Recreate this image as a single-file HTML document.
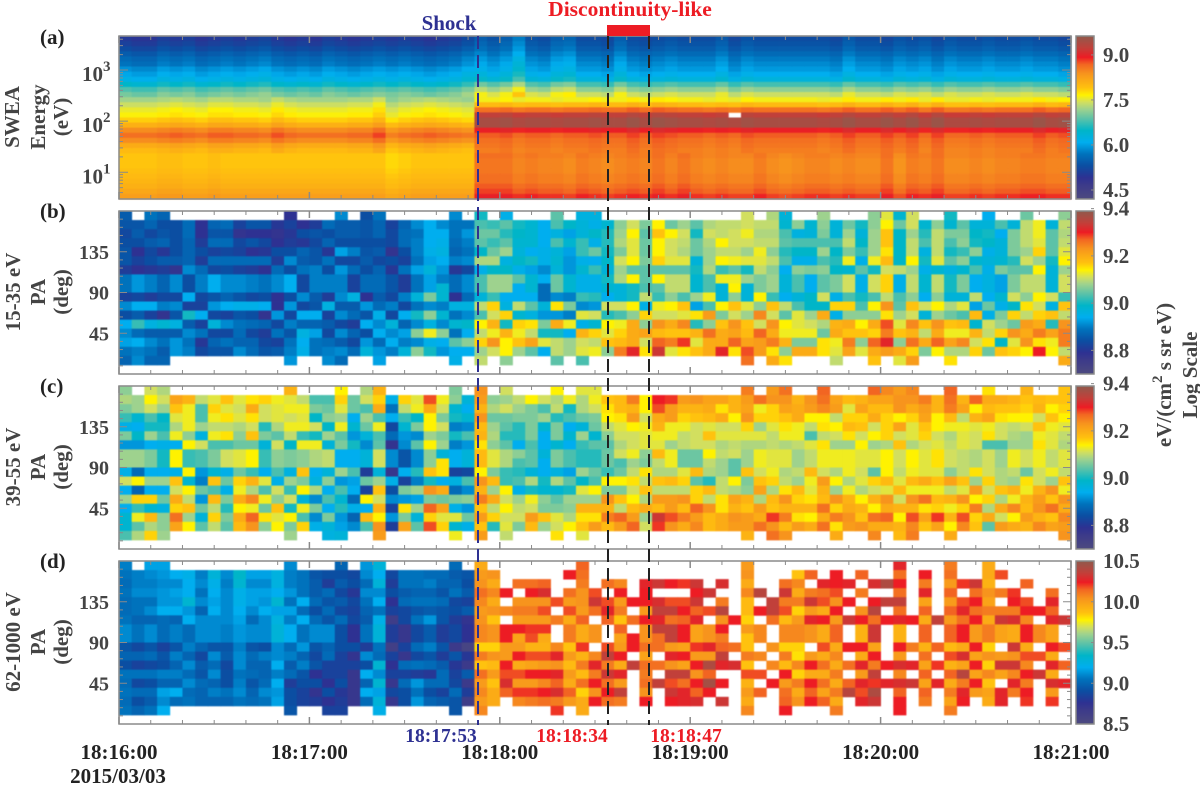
<!DOCTYPE html>
<html lang="en">
<head>
<meta charset="utf-8">
<title>SWEA electron spectra and pitch angle distributions</title>
<style>
html,body{margin:0;padding:0;background:#fff}
svg{display:block}
text{font-family:"Liberation Serif",serif;font-weight:bold}
#marks{filter:blur(0.4px)}
</style>
</head>
<body>
<svg id="chart" xmlns="http://www.w3.org/2000/svg" width="1200" height="788" viewBox="0 0 1200 788">
  <g id="marks"></g>
  <g id="frames"></g>

  <text x="40" y="44" font-size="21" fill="#222">(a)</text>
  <text x="40" y="218" font-size="21" fill="#222">(b)</text>
  <text x="40" y="393" font-size="21" fill="#222">(c)</text>
  <text x="40" y="568" font-size="21" fill="#222">(d)</text>

  <g fill="#444" font-size="21" text-anchor="middle">
    <text transform="translate(19,117) rotate(-90)">SWEA</text>
    <text transform="translate(45,117) rotate(-90)">Energy</text>
    <text transform="translate(68,117) rotate(-90)">(eV)</text>
    <text transform="translate(20,292) rotate(-90)">15-35 eV</text>
    <text transform="translate(45,292) rotate(-90)">PA</text>
    <text transform="translate(68,292) rotate(-90)">(deg)</text>
    <text transform="translate(20,467) rotate(-90)">39-55 eV</text>
    <text transform="translate(45,467) rotate(-90)">PA</text>
    <text transform="translate(68,467) rotate(-90)">(deg)</text>
    <text transform="translate(20,642) rotate(-90)">62-1000 eV</text>
    <text transform="translate(45,642) rotate(-90)">PA</text>
    <text transform="translate(68,642) rotate(-90)">(deg)</text>
    <text transform="translate(1171,375) rotate(-90)">eV/(cm<tspan font-size="15" dy="-9">2</tspan><tspan dy="9"> s sr eV)</tspan></text>
    <text transform="translate(1197,375) rotate(-90)">Log Scale</text>
  </g>

  <text x="449" y="30" font-size="21" fill="#2e3192" text-anchor="middle">Shock</text>
  <text x="630" y="16" font-size="21.5" fill="#ed1c24" text-anchor="middle">Discontinuity-like</text>
  <rect x="607" y="25" width="43" height="11" fill="#ed1c24"/>

  <line x1="478" y1="36" x2="478" y2="725" stroke="#2e3192" stroke-width="2" stroke-dasharray="13 6"/>
  <line x1="608" y1="36" x2="608" y2="725" stroke="#222" stroke-width="2" stroke-dasharray="13 6"/>
  <line x1="649" y1="36" x2="649" y2="725" stroke="#222" stroke-width="2" stroke-dasharray="13 6"/>

  <text x="441" y="742" font-size="19.5" fill="#2e3192" text-anchor="middle">18:17:53</text>
  <text x="572" y="742" font-size="19.5" fill="#ed1c24" text-anchor="middle">18:18:34</text>
  <text x="686" y="742" font-size="19.5" fill="#ed1c24" text-anchor="middle">18:18:47</text>
  <text x="118" y="783" font-size="21" fill="#222" text-anchor="middle">2015/03/03</text>
  <g id="xlabels"></g>
</svg>

<script>
// ---------- Data ----------
const timeTickLabels = ["18:16:00","18:17:00","18:18:00","18:19:00","18:20:00","18:21:00"];
const paTickValues = [45,90,135];
const energyDecades = [1,2,3];
const colorTicksA = [4.5,6.0,7.5,9.0];
const colorTicksB = [8.8,9.0,9.2,9.4];
const colorTicksC = [8.8,9.0,9.2,9.4];
const colorTicksD = [8.5,9.0,9.5,10.0,10.5];

// Panel (a): log flux per energy bin (top bin first), before and after the shock
const spectrumBeforeShock = [5.02,5.12,5.27,5.46,5.61,5.70,5.90,6.04,6.19,6.48,6.82,7.01,7.21,7.40,7.55,7.64,7.84,8.08,8.42,8.61,8.42,8.13,7.98,7.89,7.89,7.89,7.93,7.98,8.03,8.08,8.18,8.27];
const spectrumAfterShock = [5.27,5.36,5.46,5.61,5.75,5.85,5.95,6.09,6.29,6.77,7.11,7.40,7.60,7.98,8.61,9.24,9.44,9.44,8.95,8.71,8.61,8.57,8.52,8.47,8.42,8.42,8.42,8.47,8.47,8.57,8.66,8.81];
// Panel (a): per-sweep departures in high / mid / low energy bands
const sweepDevHigh = [0,-1,-1,1,0,1,-1,0,1,0,1,2,0,-1,0,-1,1,0,-1,0,1,0,1,0,-1,0,1,3,3,1,3,7,1,0,3,4,0,0,-1,3,0,-1,0,1,0,0,0,2,-1,1,0,0,0,0,0,0,-1,2,0,0,-1,1,0,1,-1,1,0,0,1,0,0,1,0,0,-1];
const sweepDevMid = [0,0,0,1,2,1,0,2,2,1,1,0,3,1,0,0,0,0,1,1,4,-2,0,1,2,1,0,-1,0,0,1,-1,0,0,-1,0,0,1,0,0,2,0,2,1,0,0,-1,0,-1,1,0,0,0,0,0,-1,0,2,0,0,2,0,2,-1,2,-1,-1,0,-1,0,0,0,2,0,1];
const sweepDevLow = [0,0,0,1,1,0,0,1,0,0,0,0,0,0,0,0,0,0,0,0,0,-2,-1,0,0,0,0,0,3,3,3,1,2,1,1,0,2,1,0,1,2,1,3,1,3,1,0,1,0,0,2,0,-1,0,1,1,0,1,0,0,3,-1,2,1,3,0,0,1,0,1,1,2,2,1,1];
const spectrumGapSweep = 48;
const spectrumGapBin = 15;

// Panels (b)-(d): levels per pitch-angle row (top row first), 0 means no data.
// (b),(c): flux = 8.7 + level*0.01 ; (d): flux = 8.5 + level*0.029
const panelBLevels = [
[16,0,19,17,0,0,0,0,0,0,0,0,0,9,0,0,0,21,0,14,19,0,0,0,0,0,21,0,30, 0,25,0,0,0,34,0,26,26,0,0,0,0,0,0,0,0,0,0,0,41,0,39,27,0,0,38,0,0,0, 37,42,28,41,0,0,30,0,0,24,0,0,35,0,0,37],
[15,15,17,14,14,18,9,17,18,12,15,15,10,12,9,11,18,16,16,15,17,12,17,21,24,21,19,19,33, 32,34,30,28,24,33,29,27,25,28,37,41,36,44,35,38,34,39,40,40,41,40,40,28,37,28,37,27,35,30, 37,44,35,41,28,37,28,34,27,27,33,27,40,43,27,40],
[13,16,13,15,14,18,9,15,15,8,9,9,8,10,14,15,14,16,16,15,17,13,18,19,24,24,19,22,35, 35,31,29,28,24,26,23,27,29,31,38,44,34,47,44,41,30,41,40,41,43,39,39,33,26,27,36,27,38,27, 38,47,29,38,31,40,36,36,29,30,24,36,40,43,34,39],
[14,14,16,17,14,17,11,18,18,13,15,13,9,11,10,13,17,14,14,14,14,13,18,20,24,25,18,20,34, 32,34,28,28,24,33,28,32,25,31,39,42,35,44,41,40,35,39,44,41,41,40,40,34,33,33,33,33,40,29, 38,47,29,40,33,40,33,37,30,29,27,36,40,42,34,40],
[15,9,13,10,14,17,14,12,13,12,9,10,14,14,17,15,10,23,20,15,16,8,14,20,25,26,17,19,29, 35,38,27,24,25,27,23,32,35,30,36,42,35,44,41,39,35,38,40,40,38,43,37,31,29,29,38,29,36,32, 38,45,29,40,26,40,30,32,37,25,27,36,38,46,34,42],
[15,12,14,16,16,17,11,18,18,18,18,18,11,21,16,15,19,13,13,16,13,14,12,19,23,24,20,21,39, 39,26,29,30,25,28,22,25,24,29,41,44,36,46,42,42,27,38,44,43,42,42,40,33,25,25,33,31,43,25, 43,48,29,44,30,42,34,37,28,27,28,31,41,38,30,44],
[11,9,10,11,8,21,18,13,14,12,11,9,18,14,19,20,14,22,18,14,17,10,19,23,27,22,10,13,25, 29,29,25,23,21,27,22,28,32,27,38,34,34,34,34,34,30,39,32,34,30,40,37,24,37,36,37,29,28,34, 30,41,40,38,25,28,26,28,33,25,36,34,34,44,27,38],
[19,22,20,17,21,14,20,24,21,21,20,19,21,24,13,20,20,20,12,18,18,15,11,19,23,20,18,21,33, 38,38,34,28,24,35,28,25,25,30,39,44,34,44,40,40,28,33,43,43,38,36,38,27,33,24,34,36,41,25, 41,46,25,40,28,40,30,36,24,26,23,36,40,40,27,41],
[19,22,20,17,21,14,20,24,21,21,20,19,21,24,13,20,20,20,12,18,18,15,11,19,23,28,18,21,33, 38,38,24,28,18,35,28,25,25,28,27,30,33,34,40,40,28,33,27,44,27,36,38,27,33,24,34,36,41,25, 41,46,25,40,28,40,30,36,24,26,23,36,40,40,27,41],
[12,13,11,13,13,24,13,15,17,15,13,14,9,14,21,16,11,21,26,9,16,13,20,27,36,28,9,18,27, 32,24,24,24,18,21,20,32,31,24,27,30,40,32,37,33,38,43,27,37,27,44,32,24,27,29,41,25,33,30, 33,40,33,37,24,37,27,27,40,24,28,41,37,44,41,32],
[21,24,24,20,21,12,12,22,24,25,25,24,9,22,13,15,26,16,16,22,18,20,13,19,21,20,26,26,40, 46,26,40,34,27,45,36,21,22,41,41,44,25,43,44,47,23,33,44,47,42,37,47,40,33,29,29,46,46,33, 44,53,34,47,41,44,39,42,23,35,25,29,45,41,26,47],
[14,16,12,8,15,30,24,13,12,15,14,8,22,13,24,24,12,21,18,15,25,13,24,30,37,28,19,21,33, 41,46,28,26,22,22,20,42,41,31,33,37,46,41,41,42,45,52,36,41,38,54,41,34,42,38,50,25,37,37, 37,45,38,41,27,38,35,33,48,25,36,46,40,46,47,40],
[24,32,26,28,26,16,12,27,21,19,18,17,13,20,17,17,16,13,11,24,21,27,17,21,26,21,28,29,44, 49,30,46,45,36,50,43,25,28,44,43,50,37,53,50,54,31,37,47,53,47,41,53,44,42,41,39,49,50,44, 50,58,42,54,47,53,47,48,28,41,38,35,52,50,31,53],
[21,18,16,16,16,21,19,13,13,18,13,11,19,15,26,23,13,21,17,14,24,21,23,37,43,37,19,24,40, 43,49,43,40,30,30,24,49,46,42,46,50,51,48,47,47,49,56,50,51,48,57,50,43,43,43,35,50,47,47, 46,55,47,49,40,50,43,43,49,40,46,53,50,55,51,55],
[23,24,21,19,22,19,10,17,19,17,17,13,12,19,24,19,18,16,13,22,18,24,20,21,25,24,34,37,46, 53,44,47,51,42,40,38,41,40,47,48,50,41,57,55,59,42,50,50,57,51,52,55,49,36,36,45,43,55,37, 57,61,37,56,50,57,51,54,41,45,29,42,53,45,43,55],
[19,20,19,16,22,20,13,15,15,21,18,15,16,20,25,19,20,21,18,27,22,20,27,37,30,22,24,24,38, 41,44,38,34,24,40,38,42,43,37,55,61,45,63,42,45,47,50,61,45,58,52,45,37,50,50,45,42,51,42, 50,52,50,46,36,44,39,39,46,35,47,46,44,60,44,40],
[17,21,17,17,0,0,0,0,0,0,0,0,0,22,0,0,21,18,0,0,23,0,0,0,0,0,25,0,40, 0,37,0,0,0,34,0,33,0,0,0,0,0,0,0,0,0,0,0,0,56,0,50,45,0,0,0,40,0,0, 47,0,42,52,0,0,45,0,0,0,0,0,0,0,0,50]
];
const panelCLevels = [
[37,0,41,39,0,0,0,0,0,0,0,0,0,49,0,0,0,44,0,39,49,0,0,0,0,0,36,0,53, 0,41,0,0,0,44,0,42,42,0,0,0,0,0,0,0,0,0,0,0,55,0,52,56,0,0,57,0,0,0, 57,54,52,54,0,0,57,0,0,45,0,0,49,0,0,47],
[39,38,44,41,51,49,40,42,47,42,45,46,43,42,40,33,33,46,35,41,46,25,46,42,58,43,37,27,52, 37,38,40,44,41,39,43,39,43,47,48,55,44,60,59,52,53,51,51,49,52,56,53,53,49,53,56,51,48,49, 51,51,53,53,55,49,56,49,57,50,50,49,47,48,47,47],
[36,38,41,38,47,43,33,46,42,41,50,41,42,43,43,36,35,42,35,33,50,19,40,43,50,41,28,24,49, 39,41,38,36,33,40,30,39,41,45,48,49,44,58,52,49,49,50,45,49,51,43,46,51,50,52,54,52,42,51, 48,48,53,50,52,49,55,51,44,48,47,47,46,49,44,46],
[32,28,33,29,42,43,33,43,45,42,45,41,42,41,42,29,37,38,24,38,33,24,32,29,44,36,30,28,53, 35,35,36,36,38,31,33,35,36,44,45,52,41,50,52,46,47,48,50,44,53,46,46,47,50,44,44,40,46,46, 50,46,44,46,51,44,48,40,49,51,45,44,44,41,47,44],
[25,24,30,30,39,43,38,40,40,39,41,31,39,43,43,41,29,43,28,35,43,13,28,36,44,41,20,21,48, 38,34,31,36,28,36,24,27,35,40,42,44,43,49,43,43,41,42,41,41,46,38,42,45,43,40,45,44,48,47, 41,46,51,42,47,44,43,43,42,43,41,40,41,47,43,42],
[36,29,38,33,43,37,26,43,45,37,47,36,34,40,32,30,38,34,22,27,33,18,22,21,38,36,30,33,49, 39,31,31,36,24,36,28,38,28,37,41,41,42,43,43,40,41,47,42,42,42,42,40,43,43,33,40,41,45,41, 44,46,41,42,46,41,39,42,41,45,41,39,38,43,42,40],
[22,22,24,25,24,44,41,33,33,35,35,27,41,29,43,43,27,36,30,21,34,8,21,34,44,38,20,22,45, 37,34,24,33,24,28,24,32,34,34,39,41,42,42,38,40,41,41,39,40,39,39,40,39,40,42,45,38,38,44, 38,39,47,39,41,42,40,42,41,33,33,38,38,45,42,39],
[38,38,36,30,44,32,33,36,41,42,44,32,37,36,37,39,40,24,24,27,41,21,15,21,37,27,24,27,48, 42,39,37,34,27,36,33,31,31,35,41,43,37,48,43,35,35,44,40,41,38,43,42,42,38,40,43,43,43,42, 42,44,41,44,42,45,41,40,39,41,38,43,41,43,40,42],
[38,38,36,30,44,32,33,36,41,42,44,32,37,36,37,39,40,24,24,27,41,21,15,21,37,45,24,27,48, 42,39,33,34,24,36,33,31,31,35,33,38,36,40,43,35,35,40,38,34,38,43,42,42,38,40,43,43,43,42, 42,44,41,44,42,45,41,40,39,41,38,43,41,43,40,42],
[25,18,24,24,25,44,22,28,25,35,32,24,33,26,47,24,27,38,33,11,27,7,24,31,47,45,12,13,44, 36,32,31,27,24,26,23,38,35,32,35,40,45,39,39,42,48,39,38,34,47,41,43,39,40,48,41,39,43,41, 34,44,40,43,42,42,37,40,45,41,39,40,35,41,43,40],
[41,44,38,38,47,28,20,47,35,46,49,42,25,38,36,26,37,22,23,35,38,25,12,20,30,24,26,33,53, 48,32,33,39,30,39,34,29,33,44,44,45,40,47,48,46,34,31,40,44,36,47,46,40,38,43,52,44,39,42, 46,48,42,48,50,47,51,47,38,46,39,38,45,41,38,47],
[24,17,24,24,41,44,35,33,25,43,39,33,41,32,44,39,24,33,24,12,47,14,36,38,53,50,18,21,49, 38,44,25,30,28,28,30,42,44,36,36,41,47,40,40,40,46,48,40,39,37,51,39,45,48,42,49,38,43,39, 41,42,48,43,43,43,40,42,52,41,47,49,43,49,53,43],
[38,46,46,35,50,40,22,48,36,50,54,43,37,41,27,21,33,28,18,44,41,21,22,23,36,35,36,37,55, 50,41,38,43,37,34,38,38,38,53,47,44,39,52,52,53,46,40,45,51,49,39,48,53,46,45,48,53,49,44, 49,53,41,53,56,48,49,53,44,46,39,43,49,52,47,53],
[24,32,28,26,46,47,35,40,31,44,43,35,47,30,43,36,24,31,25,24,49,12,45,38,57,51,25,22,47, 40,44,40,41,36,36,37,49,49,49,40,48,50,48,52,48,57,53,45,49,47,52,47,49,49,49,56,46,50,49, 44,50,49,49,45,46,43,46,55,39,50,54,48,53,56,50],
[28,43,48,37,56,38,27,46,36,50,57,45,42,44,33,21,36,22,17,48,44,22,36,27,46,42,42,35,52, 46,41,41,52,47,42,39,45,45,55,57,52,38,63,58,55,52,48,50,53,52,50,59,55,45,44,50,55,53,47, 56,57,44,58,51,59,49,58,46,50,41,44,52,49,47,54],
[28,34,39,37,51,44,34,40,34,48,53,37,44,36,46,25,27,23,21,33,53,11,51,34,58,46,28,25,47, 31,42,36,48,38,41,44,47,52,48,52,57,41,59,53,50,54,48,50,52,52,56,53,48,52,50,56,45,52,53, 50,50,49,54,47,51,44,54,47,34,52,50,49,54,51,52],
[33,39,46,38,0,0,0,0,0,0,0,0,0,38,0,0,26,27,0,0,52,0,0,0,0,0,43,0,52, 0,40,0,0,0,45,0,42,0,0,0,0,0,0,0,0,0,0,0,0,49,0,56,53,0,0,0,50,0,0, 54,0,48,55,0,0,50,0,0,0,0,0,0,0,0,53]
];
const panelDLevels = [
[20,0,23,23,0,0,0,0,0,0,0,0,0,21,0,0,0,17,0,22,27,0,0,0,0,0,18,0,50, 0,0,0,0,0,0,0,57,0,0,0,0,0,0,0,0,0,0,0,0,52,0,0,0,0,0,0,0,0,0, 0,0,61,0,0,0,55,0,0,50,0,0,0,0,0,0],
[19,20,21,22,24,25,20,27,21,29,23,23,26,20,19,15,14,14,13,21,24,13,19,19,18,18,16,15,52, 53,0,0,0,0,0,60,56,0,0,0,0,0,0,0,0,0,0,0,0,53,0,0,0,47,57,0,60,0,57, 0,0,56,0,60,0,56,0,0,50,58,0,0,0,0,0],
[18,20,20,21,21,24,21,25,20,28,21,21,26,20,19,16,11,16,14,18,27,11,19,19,20,17,17,14,53, 50,0,56,56,57,0,0,55,0,56,54,0,61,63,60,59,63,0,62,0,50,0,0,56,54,0,61,60,61,0, 62,66,60,0,55,0,52,59,63,49,0,0,57,0,0,0],
[19,21,21,22,23,24,19,24,21,25,23,23,24,22,19,16,18,13,10,21,21,14,16,17,17,15,19,16,56, 54,60,0,60,62,0,56,53,58,0,60,0,60,0,0,0,60,63,0,0,54,65,0,63,50,55,56,58,0,55, 0,0,56,0,61,0,57,0,56,53,55,59,0,0,56,0],
[18,19,19,22,22,28,21,23,21,25,23,22,28,19,24,18,15,16,13,19,24,9,18,19,19,18,13,12,54, 50,0,53,53,53,58,52,53,63,58,52,60,60,62,58,58,63,0,55,0,48,0,64,55,55,63,58,53,60,0, 60,64,64,0,51,0,52,58,60,51,0,60,58,0,61,0],
[18,19,21,24,24,22,17,24,21,24,21,24,23,23,18,14,18,13,12,17,19,12,13,15,16,15,14,16,52, 53,54,55,55,58,0,58,52,56,61,55,0,52,64,64,60,57,58,65,0,48,60,64,58,46,52,50,60,0,53, 65,0,56,0,57,0,57,61,56,55,55,55,60,60,57,0],
[19,17,17,18,17,24,21,21,21,23,18,21,26,20,24,18,15,18,13,16,25,5,13,19,22,15,11,8,53, 47,0,52,52,52,55,50,57,0,57,47,56,60,61,56,57,61,0,53,60,46,0,56,48,52,61,60,52,63,60, 56,60,61,60,50,64,52,56,60,50,63,62,54,0,61,63],
[21,19,21,18,20,18,21,21,20,22,21,21,27,24,19,21,21,14,9,19,27,11,7,13,16,11,13,9,54, 53,60,60,59,59,0,55,50,53,0,57,0,53,64,64,60,51,53,60,0,52,54,0,54,54,53,50,57,0,49, 63,0,49,0,57,0,57,60,52,55,51,50,60,54,51,0],
[21,19,21,18,20,18,21,21,20,22,21,21,27,24,19,21,21,14,9,19,27,11,7,13,16,11,13,9,54, 53,60,51,58,50,0,55,50,53,0,51,60,53,56,64,60,51,53,55,0,47,54,0,54,54,53,50,57,0,49, 63,0,49,0,57,0,57,60,52,55,51,50,60,54,51,0],
[15,13,15,12,15,20,17,15,15,20,15,14,21,18,22,15,17,14,14,11,19,4,12,18,20,15,6,2,46, 46,52,52,49,49,54,47,59,0,58,52,60,56,56,52,51,59,61,57,56,47,0,53,46,46,0,58,50,60,60, 51,0,60,55,49,57,48,50,60,46,0,63,50,0,60,58],
[17,17,18,15,20,17,13,21,16,21,18,20,21,20,17,13,18,12,8,21,18,12,7,13,15,11,15,10,55, 53,52,60,58,58,61,52,49,54,64,60,0,51,0,61,60,52,52,64,0,55,54,0,55,45,52,50,54,0,50, 60,0,52,0,56,0,58,62,51,53,52,53,58,58,50,0],
[14,12,13,14,17,21,16,18,13,21,17,17,24,16,20,15,12,12,12,14,28,9,18,19,18,16,10,6,47, 48,60,50,51,52,53,48,55,61,55,50,64,56,56,53,51,60,66,61,62,47,0,54,48,54,60,56,50,56,61, 55,60,62,61,51,59,49,51,60,46,63,63,54,0,61,57],
[19,19,19,20,20,18,15,21,14,19,18,17,20,18,15,9,12,12,7,24,21,12,12,11,10,18,12,16,56, 52,58,58,60,60,61,52,48,55,63,61,0,55,0,64,64,53,57,0,0,58,58,0,60,46,50,50,55,0,52, 64,0,54,0,57,0,57,65,51,54,51,54,60,63,50,0],
[18,13,14,17,17,21,18,17,14,20,15,18,24,11,14,14,9,14,7,17,28,7,18,22,18,18,13,6,52, 47,62,52,52,54,57,50,56,60,56,52,0,56,64,58,56,60,67,60,0,49,0,60,52,55,60,56,50,57,61, 59,61,62,63,51,61,50,55,60,47,0,61,55,0,62,61],
[19,18,18,23,24,18,17,20,19,21,17,21,22,14,12,8,14,10,7,24,23,13,14,19,14,12,18,11,54, 50,57,59,59,60,62,57,46,53,60,64,0,53,0,63,61,57,60,0,0,52,57,0,56,50,57,51,55,65,58, 66,0,57,0,57,0,55,61,52,51,61,55,60,0,52,0],
[18,14,16,21,18,19,17,17,17,19,18,19,23,14,12,11,9,11,7,18,27,7,14,22,17,16,15,5,52, 50,0,54,55,56,55,52,50,60,56,55,0,60,0,60,61,62,0,63,0,50,0,0,57,53,60,57,50,0,61, 63,0,60,0,55,0,51,60,0,50,61,0,59,0,59,0],
[19,17,19,24,0,0,0,0,0,0,0,0,0,15,0,0,12,12,0,0,25,0,0,0,0,0,15,0,54, 0,0,0,0,0,59,0,50,0,0,0,0,0,0,0,0,0,0,0,0,54,0,0,60,0,0,0,55,0,0, 0,0,60,0,0,0,55,0,0,0,0,0,0,0,0,0]
];

// ---------- Scales and drawing ----------
const NS = "http://www.w3.org/2000/svg";
const marks = document.getElementById("marks");
const frames = document.getElementById("frames");
const xlabels = document.getElementById("xlabels");
const PLOT_LEFT = 119, PLOT_RIGHT = 1071, BAR_LEFT = 1076, BAR_RIGHT = 1094;
const SWEEPS = 75, SWEEP_SECONDS = 4, TOTAL_SECONDS = 300, PA_ROWS = 18;
const FRAME = "#8a8a8a";
const DEV_UNIT_HIGH = 0.07, DEV_UNIT_MID = 0.05, DEV_UNIT_LOW = 0.05;

function xTime(sec){ return PLOT_LEFT + sec/TOTAL_SECONDS*(PLOT_RIGHT-PLOT_LEFT); }
function mk(tag,parent){ const el=document.createElementNS(NS,tag); parent.appendChild(el); return el; }
function linear(d0,d1,r0,r1){ return function(v){ return r0+(v-d0)/(d1-d0)*(r1-r0); }; }

const colorStops = [[0,[77,74,127]],[6,[60,58,138]],[9,[46,49,146]],[14,[11,78,162]],[19,[0,114,188]],[24,[0,174,239]],[29,[0,181,200]],[34,[92,194,168]],[38,[158,210,142]],[41,[210,223,95]],[44,[255,242,0]],[47,[255,194,14]],[53,[247,148,29]],[57,[242,101,34]],[60,[237,28,36]],[64,[193,64,58]],[69,[143,90,76]]];
function colorAt(frac){
  const p=Math.max(0,Math.min(1,frac))*69;
  for(let i=1;i<colorStops.length;i++){
    if(p<=colorStops[i][0]){
      const a=colorStops[i-1],b=colorStops[i],t=(p-a[0])/(b[0]-a[0]);
      return "rgb("+[0,1,2].map(function(k){return Math.round(a[1][k]+(b[1][k]-a[1][k])*t);}).join(",")+")";
    }
  }
  return "rgb(143,90,76)";
}

function drawCell(group,x,y,w,h,fill){
  const el=mk("rect",group);
  el.setAttribute("x",x.toFixed(2));
  el.setAttribute("y",y.toFixed(2));
  el.setAttribute("width",(w+0.4).toFixed(2));
  el.setAttribute("height",(h+0.4).toFixed(2));
  el.setAttribute("fill",fill);
  
  
}

function drawTick(group,x1,y1,x2,y2,w){
  const el=mk("line",group);
  el.setAttribute("x1",x1);el.setAttribute("y1",y1);el.setAttribute("x2",x2);el.setAttribute("y2",y2);
  el.setAttribute("stroke",FRAME);el.setAttribute("stroke-width",w||1);
  
  
}

function drawFrame(group,top,bottom){
  const box=mk("rect",group);
  box.setAttribute("x",PLOT_LEFT);box.setAttribute("y",top);
  box.setAttribute("width",PLOT_RIGHT-PLOT_LEFT);box.setAttribute("height",bottom-top);
  box.setAttribute("fill","none");box.setAttribute("stroke",FRAME);box.setAttribute("stroke-width","1.5");
  
  
  for(let s=0;s<=TOTAL_SECONDS;s+=10){
    const x=xTime(s),major=s%60===0,len=major?7:4;
    drawTick(group,x,bottom,x,bottom-len,major?1.5:1);
    drawTick(group,x,top,x,top+len,major?1.5:1);
  }
}

function drawColorbar(top,bottom,scale,ticks,digits){
  const g=mk("g",frames);
  
  
  const n=Math.round(bottom-top);
  for(let i=0;i<n;i++){
    const seg=mk("rect",g);
    seg.setAttribute("x",BAR_LEFT);seg.setAttribute("y",top+i);
    seg.setAttribute("width",BAR_RIGHT-BAR_LEFT);seg.setAttribute("height",1.3);
    seg.setAttribute("fill",colorAt(1-(i+0.5)/n));
    
    
  }
  const box=mk("rect",g);
  box.setAttribute("x",BAR_LEFT);box.setAttribute("y",top);box.setAttribute("width",BAR_RIGHT-BAR_LEFT);box.setAttribute("height",bottom-top);
  box.setAttribute("fill","none");box.setAttribute("stroke",FRAME);box.setAttribute("stroke-width","1.5");
  
  
  ticks.forEach(function(v){
    const y=scale(v);
    drawTick(g,BAR_RIGHT-3,y,BAR_RIGHT,y,1);
    const t=mk("text",g);
    t.setAttribute("x",BAR_RIGHT+9);t.setAttribute("y",y+7);
    t.setAttribute("font-size","21");t.setAttribute("fill","#444");
    
    
    t.textContent=v.toFixed(digits);
  });
}

function drawPaPanel(levels,top,bottom,base,step,dMin,dMax,ticks,panelName){
  const g=mk("g",marks);
  
  
  const rowH=(bottom-top)/PA_ROWS, cellW=xTime(SWEEP_SECONDS)-xTime(0);
  const colorFrac=linear(dMin,dMax,0,1);
  levels.forEach(function(row,r){
    row.forEach(function(level,c){
      if(!level) return;
      const value=base+level*step;
      drawCell(g,xTime(c*SWEEP_SECONDS),top+r*rowH,cellW,rowH,colorAt(colorFrac(value)));
    });
  });
  drawFrame(frames,top,bottom);
  const yPa=linear(0,180,bottom,top);
  for(let a=0;a<=180;a+=9){
    const y=yPa(a),major=a%45===0,len=major?8:4;
    drawTick(frames,PLOT_LEFT,y,PLOT_LEFT+len,y,1);
    drawTick(frames,PLOT_RIGHT,y,PLOT_RIGHT-len,y,1);
  }
  paTickValues.forEach(function(a){
    const t=mk("text",frames);
    t.setAttribute("x",109);t.setAttribute("y",yPa(a)+7);
    t.setAttribute("font-size","20");t.setAttribute("fill","#444");t.setAttribute("text-anchor","end");
    
    
    t.textContent=a;
  });
}

// Panel (a)
(function(){
  const top=36,bottom=199,rows=spectrumBeforeShock.length,rowH=(bottom-top)/rows;
  const cellW=xTime(SWEEP_SECONDS)-xTime(0);
  const colorFrac=linear(4.2,9.63,0,1);
  const g=mk("g",marks);
  
  
  for(let c=0;c<SWEEPS;c++){
    for(let r=0;r<rows;r++){
      if(c===spectrumGapSweep&&r===spectrumGapBin) continue;
      const base=c<28?spectrumBeforeShock[r]:spectrumAfterShock[r];
      const dev=r<12?sweepDevHigh[c]*DEV_UNIT_HIGH:(r<23?sweepDevMid[c]*DEV_UNIT_MID:sweepDevLow[c]*DEV_UNIT_LOW);
      drawCell(g,xTime(c*SWEEP_SECONDS),top+r*rowH,cellW,rowH,colorAt(colorFrac(base+dev)));
    }
  }
  drawFrame(frames,top,bottom);
  const yE=linear(Math.log10(3),Math.log10(4627),bottom,top);
  for(let d=0;d<=3;d++){
    for(let m=1;m<=9;m++){
      const e=m*Math.pow(10,d);
      if(e<3||e>4627) continue;
      const y=yE(Math.log10(e)),len=m===1?9:4;
      drawTick(frames,PLOT_LEFT,y,PLOT_LEFT+len,y,1);
      drawTick(frames,PLOT_RIGHT,y,PLOT_RIGHT-len,y,1);
    }
  }
  energyDecades.forEach(function(d){
    const y=yE(d);
    const t=mk("text",frames);
    t.setAttribute("x",82);t.setAttribute("y",y+11);
    t.setAttribute("font-size","21");t.setAttribute("fill","#444");
    
    
    t.textContent="10";
    const s=mk("tspan",t);
    s.setAttribute("font-size","15");s.setAttribute("dy","-10");
    s.textContent=d;
  });
  drawColorbar(top,bottom,linear(4.2,9.63,bottom,top),colorTicksA,1);
})();

// Panels (b)-(d)
drawPaPanel(panelBLevels,211,374,8.7,0.01,8.7,9.39,paTickValues,"pitch-angle-panel-15-35ev");
drawColorbar(211,374,linear(8.7,9.39,374,211),colorTicksB,1);
drawPaPanel(panelCLevels,386,549,8.7,0.01,8.7,9.39,paTickValues,"pitch-angle-panel-39-55ev");
drawColorbar(386,549,linear(8.7,9.39,549,386),colorTicksC,1);
drawPaPanel(panelDLevels,561,724,8.5,0.029,8.5,10.5,paTickValues,"pitch-angle-panel-62-1000ev");
drawColorbar(561,724,linear(8.5,10.5,724,561),colorTicksD,1);

// Time axis labels
timeTickLabels.forEach(function(label,i){
  const t=mk("text",xlabels);
  t.setAttribute("x",xTime(i*60));t.setAttribute("y",759);
  t.setAttribute("font-size","21");t.setAttribute("fill","#222");t.setAttribute("text-anchor","middle");
  
  
  t.textContent=label;
});
</script>
</body>
</html>
